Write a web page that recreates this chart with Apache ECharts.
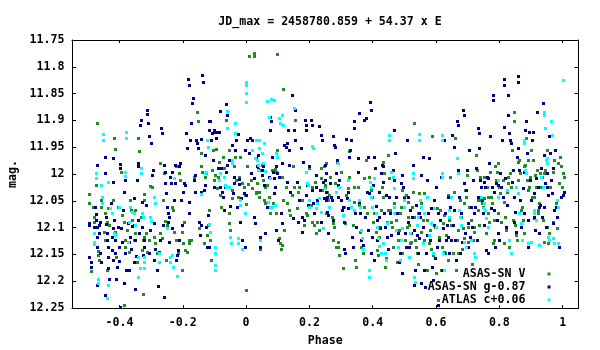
<!DOCTYPE html>
<html>
<head>
<meta charset="utf-8">
<script src="https://cdn.jsdelivr.net/npm/echarts@6/dist/echarts.min.js"></script>
<style>
  html, body { margin: 0; padding: 0; background: #fff; }
  #chart { width: 600px; height: 350px; }
</style>
</head>
<body>
<div id="chart"></div>
<script>
// Phase-folded light curve, ephemeris JD_max = 2458780.859 + 54.37 x E
const titleText = 'JD_max = 2458780.859 + 54.37 x E';
const seriesNames = ['ASAS-SN V', 'ASAS-SN g-0.87', 'ATLAS c+0.06'];
const seriesColors = ['#228b22', '#00008b', '#00ffff'];
const phaseTicks = [-0.4, -0.2, 0, 0.2, 0.4, 0.6, 0.8, 1];
const magTicks = [11.75, 11.8, 11.85, 11.9, 11.95, 12, 12.05, 12.1, 12.15, 12.2, 12.25];

// ASAS-SN V  [phase, mag]
const asasV = [
[-0.496,12.037],[-0.496,12.055],[-0.490,12.181],[-0.484,12.061],[-0.482,12.080],[-0.480,12.089],[-0.475,12.021],[-0.470,11.905],[-0.469,12.143],[-0.469,12.151],
[-0.466,12.160],[-0.458,12.049],[-0.458,12.061],[-0.450,12.108],[-0.447,12.073],[-0.445,12.123],[-0.440,12.179],[-0.438,12.089],[-0.435,12.064],[-0.432,12.095],
[-0.424,12.142],[-0.419,12.049],[-0.416,11.932],[-0.413,11.953],[-0.413,12.108],[-0.410,12.154],[-0.405,12.061],
[-0.394,11.996],[-0.392,12.076],[-0.387,12.089],[-0.382,12.124],[-0.382,12.136],[-0.377,12.104],[-0.371,12.145],[-0.366,12.049],[-0.365,12.067],[-0.361,12.086],
[-0.355,12.123],[-0.352,12.067],[-0.350,12.111],[-0.345,12.164],[-0.340,11.933],[-0.338,11.958],[-0.331,12.080],[-0.329,12.142],[-0.327,12.123],[-0.324,12.037],
[-0.324,12.049],[-0.321,12.117],[-0.317,12.111],[-0.313,12.145],[-0.308,12.123],[-0.303,12.022],[-0.385,12.244],[-0.326,12.224],
[-0.297,12.024],[-0.292,12.117],[-0.289,12.129],[-0.282,12.148],[-0.273,12.111],[-0.271,11.980],[-0.266,12.120],[-0.264,12.049],[-0.260,11.998],[-0.255,12.087],
[-0.252,12.160],[-0.250,12.095],[-0.234,12.061],[-0.232,12.067],[-0.227,12.108],[-0.222,11.986],[-0.220,12.124],[-0.215,12.148],[-0.211,11.999],[-0.208,12.011],
[-0.202,12.179],[-0.202,12.108],[-0.199,12.129],
[-0.197,12.089],[-0.192,12.142],[-0.187,12.145],[-0.181,12.123],[-0.179,12.129],[-0.173,12.123],[-0.166,12.006],[-0.155,11.884],[-0.152,11.902],[-0.150,12.101],
[-0.144,11.960],[-0.141,11.986],[-0.139,11.996],[-0.134,12.129],[-0.129,12.005],[-0.126,11.998],[-0.123,12.114],[-0.120,12.095],[-0.118,12.068],[-0.113,12.123],
[-0.110,12.160],[-0.108,11.993],[-0.105,11.956],[-0.102,12.011],
[-0.097,12.002],[-0.095,11.954],[-0.092,12.027],[-0.089,12.005],[-0.086,11.977],[-0.081,12.039],[-0.078,12.061],[-0.074,11.968],[-0.071,11.989],[-0.065,11.996],
[-0.063,11.899],[-0.060,11.983],[-0.055,11.955],[-0.053,12.073],[-0.055,12.092],[-0.052,12.104],[-0.046,12.030],[-0.044,12.045],[-0.039,11.986],[-0.036,11.968],
[-0.031,12.011],[-0.025,12.042],[-0.021,12.005],[-0.018,11.968],[-0.013,12.017],[-0.007,12.024],[-0.004,12.039],[-0.001,12.056],[0.000,12.216],
[0.003,11.986],[0.005,12.019],[0.008,11.780],[0.017,12.011],[0.019,12.027],[0.024,11.774],[0.025,11.780],[0.030,12.036],[0.032,12.033],[0.035,12.017],
[0.040,12.042],[0.042,12.033],[0.045,12.139],[0.047,11.993],[0.051,11.983],[0.053,12.011],[0.056,12.049],[0.059,12.055],[0.061,12.024],[0.066,12.021],
[0.072,12.042],[0.074,12.073],[0.082,11.993],[0.085,12.055],[0.088,12.008],[0.091,11.991],[0.093,11.996],[0.095,12.073],[0.098,11.776],[0.098,11.955],
[0.103,12.120],[0.106,12.129],[0.109,12.139],[0.112,12.132],[0.114,12.005],[0.116,12.049],[0.117,11.842],[0.119,12.104],[0.125,12.024],[0.130,12.055],
[0.135,12.067],[0.140,12.076],[0.146,12.039],[0.148,11.986],[0.151,12.024],[0.154,11.899],[0.162,12.064],[0.165,12.033],[0.167,12.024],[0.177,12.049],
[0.183,12.095],[0.188,12.073],[0.193,12.076],[0.198,11.989],
[0.204,12.058],[0.207,12.089],[0.209,12.024],[0.214,12.095],[0.217,12.014],[0.222,12.111],[0.225,12.089],[0.230,12.104],[0.235,11.989],[0.238,12.008],
[0.241,12.030],[0.246,11.986],[0.249,12.021],[0.251,12.073],
[0.249,12.024],[0.252,11.980],[0.255,12.033],[0.258,12.049],[0.263,12.039],[0.266,12.005],[0.270,12.080],[0.273,12.092],[0.273,12.123],[0.279,12.098],
[0.281,12.017],[0.284,12.136],[0.287,11.977],[0.289,12.126],[0.291,12.136],[0.294,12.151],[0.300,11.996],[0.305,12.176],[0.310,12.061],[0.312,12.091],
[0.315,12.039],[0.321,12.027],[0.326,11.958],[0.326,12.005],[0.331,12.061],[0.337,12.095],[0.340,12.024],[0.342,12.052],[0.344,12.160],[0.347,12.173],
[0.352,12.024],[0.358,12.058],[0.361,12.108],[0.363,12.136],[0.368,12.148],[0.371,12.061],[0.373,12.008],[0.379,11.974],[0.382,12.073],[0.386,11.968],
[0.389,12.005],[0.394,12.030],[0.397,12.042],[0.400,12.089],[0.405,12.073],[0.410,12.108],[0.415,12.142],[0.418,12.151],[0.421,12.117],[0.424,12.098],
[0.426,12.067],[0.428,12.024],[0.431,12.042],[0.434,11.977],[0.437,11.999],[0.439,12.173],[0.442,12.157],[0.445,12.089],[0.447,12.067],
[0.449,11.965],[0.452,12.008],[0.455,12.067],[0.458,12.089],[0.461,12.098],[0.463,12.136],[0.468,12.055],[0.473,12.086],[0.477,12.164],[0.479,12.123],
[0.484,12.104],[0.487,12.073],[0.489,12.061],[0.491,12.148],[0.494,12.030],[0.500,12.042],[0.502,12.123],[0.505,12.039],[0.508,12.098],[0.510,12.080],
[0.512,12.052],[0.516,12.095],[0.519,12.129],[0.521,12.126],[0.523,12.061],[0.526,12.033],[0.529,12.080],[0.531,11.905],[0.533,12.123],[0.537,12.136],
[0.540,12.148],[0.542,12.167],[0.544,12.073],[0.547,12.036],
[0.552,12.055],[0.554,12.108],[0.558,12.086],[0.561,12.036],[0.563,12.123],[0.568,12.148],[0.571,12.179],[0.573,12.086],[0.579,12.129],[0.582,12.104],
[0.584,12.139],[0.586,11.930],[0.589,12.151],[0.594,12.049],[0.597,12.098],[0.600,12.185],[0.603,12.064],[0.607,12.235],[0.610,12.117],[0.613,12.067],
[0.616,12.179],[0.618,12.136],[0.621,12.092],[0.624,12.077],[0.626,12.145],[0.628,12.148],[0.631,12.114],[0.637,12.039],[0.639,12.160],[0.642,12.086],
[0.645,12.005],[0.647,12.095],
[0.652,12.148],[0.658,12.033],[0.660,11.933],[0.663,12.179],[0.666,12.123],[0.668,12.104],[0.670,12.148],[0.673,12.042],[0.677,12.049],[0.679,12.080],
[0.681,12.139],[0.684,12.101],[0.687,12.120],[0.689,12.055],[0.691,12.030],[0.695,12.042],[0.698,12.002],[0.700,12.126],[0.702,12.098],[0.705,12.061],
[0.710,12.086],[0.712,12.167],[0.716,12.123],[0.719,12.108],[0.721,12.098],[0.726,11.965],[0.729,11.993],[0.731,12.049],[0.733,12.067],[0.737,12.095],
[0.740,12.005],[0.742,12.049],[0.744,12.055],[0.747,12.061],
[0.750,12.045],[0.752,12.005],[0.758,12.111],[0.761,12.024],[0.763,12.073],[0.765,12.042],[0.768,12.089],[0.771,11.996],[0.773,12.042],[0.776,12.055],
[0.779,12.129],[0.782,12.086],[0.784,12.123],[0.786,11.986],[0.789,12.011],[0.792,11.996],[0.795,11.980],[0.797,12.073],[0.800,12.024],[0.803,12.036],
[0.805,12.089],[0.810,12.011],[0.814,12.052],[0.816,12.129],[0.818,12.080],[0.821,12.104],[0.824,12.033],[0.826,12.005],[0.828,12.017],[0.831,12.136],
[0.835,11.999],[0.837,12.024],[0.839,11.955],[0.842,12.086],[0.845,11.884],[0.847,11.902],
[0.849,12.095],[0.852,12.114],[0.856,12.123],[0.858,11.977],[0.860,12.011],[0.863,11.974],[0.866,11.999],[0.868,12.067],[0.870,12.061],[0.874,12.086],
[0.877,11.986],[0.879,12.111],[0.881,11.983],[0.884,11.933],[0.887,12.011],[0.889,12.030],[0.891,11.974],[0.895,12.024],[0.898,12.005],[0.900,11.955],
[0.902,12.042],[0.905,11.974],[0.908,12.042],[0.910,12.083],[0.912,12.002],[0.916,12.024],[0.919,11.993],[0.921,12.073],[0.923,12.067],[0.926,12.055],
[0.929,11.999],[0.931,12.024],[0.934,12.005],[0.937,12.086],[0.940,11.999],[0.942,12.126],[0.944,11.993],[0.947,11.974],
[0.950,11.955],[0.952,12.098],[0.955,12.129],[0.958,12.111],[0.961,12.024],[0.963,12.011],[0.968,11.996],[0.971,12.089],[0.974,11.974],[0.979,12.055],
[0.982,12.101],[0.984,11.980],[0.989,12.017],[0.993,11.968],[0.995,11.986],[0.997,12.024],[1.000,11.999],[1.003,12.005]
];

// ASAS-SN g, shifted by -0.87  [phase, mag]
const asasG = [
[-0.496,12.091],[-0.496,12.095],[-0.496,12.154],[-0.490,12.164],[-0.490,12.174],[-0.479,12.098],[-0.477,12.061],[-0.475,12.075],[-0.474,12.085],[-0.471,11.984],
[-0.471,12.098],[-0.471,12.117],[-0.470,12.137],[-0.470,12.208],[-0.466,12.095],[-0.466,12.111],[-0.463,12.089],[-0.461,12.147],[-0.458,12.164],[-0.445,11.968],
[-0.445,11.999],[-0.447,12.226],[-0.442,12.080],[-0.442,12.093],[-0.440,12.111],[-0.440,12.123],[-0.437,12.136],[-0.437,12.154],[-0.435,12.176],[-0.432,12.195],
[-0.426,12.055],[-0.424,12.117],[-0.424,12.141],[-0.422,12.160],[-0.419,11.970],[-0.419,12.014],[-0.419,12.101],[-0.417,12.086],[-0.413,12.123],[-0.413,12.148],
[-0.410,12.196],[-0.408,12.173],[-0.405,12.098],[-0.403,12.136],[-0.403,12.162],[-0.397,12.248],
[-0.398,11.981],[-0.398,11.989],[-0.394,12.101],[-0.392,12.126],[-0.390,12.067],[-0.387,12.033],[-0.385,12.204],[-0.382,12.011],[-0.382,12.148],[-0.379,12.179],
[-0.374,12.092],[-0.371,12.179],[-0.369,12.126],[-0.366,12.117],[-0.363,12.139],[-0.361,12.097],[-0.355,12.045],[-0.353,12.095],[-0.353,12.164],[-0.352,12.215],
[-0.350,12.123],[-0.348,12.153],[-0.345,12.011],[-0.341,11.980],[-0.340,11.985],[-0.340,12.086],[-0.338,12.111],[-0.334,11.909],[-0.331,11.899],[-0.329,12.052],
[-0.329,12.098],[-0.327,12.151],[-0.324,12.123],[-0.321,12.136],[-0.316,12.058],[-0.314,11.881],[-0.312,11.888],[-0.310,11.904],[-0.308,11.930],[-0.306,12.148],
[-0.303,12.104],[-0.300,11.943],
[-0.297,12.002],[-0.295,11.993],[-0.292,12.092],[-0.290,12.160],[-0.287,12.139],[-0.282,12.179],[-0.278,12.209],[-0.274,12.145],[-0.271,12.123],[-0.268,11.915],
[-0.266,11.924],[-0.264,12.095],[-0.260,12.229],[-0.259,11.983],[-0.257,11.996],[-0.255,12.017],[-0.253,12.036],[-0.250,12.061],[-0.248,12.073],[-0.247,12.089],
[-0.245,12.080],[-0.243,12.126],[-0.239,12.005],[-0.237,12.017],[-0.234,11.996],[-0.234,12.101],[-0.229,12.049],[-0.226,11.983],[-0.224,12.017],[-0.221,12.160],
[-0.218,12.151],[-0.215,12.142],[-0.213,12.123],[-0.211,11.986],[-0.208,11.979],[-0.205,12.049],[-0.202,12.095],[-0.199,12.033],
[-0.197,12.017],[-0.192,12.021],[-0.189,11.924],[-0.187,11.952],[-0.184,11.822],[-0.181,11.834],[-0.181,12.073],[-0.179,12.052],[-0.176,11.937],[-0.173,11.905],
[-0.171,11.868],[-0.169,11.859],[-0.166,12.011],[-0.162,12.002],[-0.160,12.033],[-0.158,11.937],[-0.155,11.943],[-0.152,11.952],[-0.150,12.089],[-0.147,12.114],
[-0.144,12.033],[-0.143,11.935],[-0.141,12.095],[-0.139,11.815],[-0.137,11.828],[-0.134,12.030],[-0.131,12.021],[-0.129,11.965],[-0.126,12.098],[-0.123,12.136],
[-0.120,12.077],[-0.118,11.902],[-0.118,11.917],[-0.116,12.136],[-0.113,11.902],[-0.110,11.937],[-0.108,11.923],[-0.105,11.974],[-0.102,12.024],[-0.100,11.917],
[-0.097,11.921],[-0.095,11.933],[-0.092,11.921],[-0.089,11.989],[-0.086,11.921],[-0.084,12.024],[-0.081,11.882],[-0.078,11.989],[-0.076,12.033],[-0.074,12.042],
[-0.071,12.067],[-0.067,12.024],[-0.065,11.996],[-0.063,11.869],[-0.061,11.890],[-0.059,11.983],[-0.055,11.974],[-0.050,12.060],[-0.044,11.946],[-0.041,12.035],
[-0.039,12.005],[-0.037,12.017],[-0.034,11.955],[-0.031,11.937],[-0.028,12.061],[-0.025,11.925],[-0.023,12.019],[-0.021,12.010],[-0.018,12.089],[-0.015,12.045],
[-0.013,12.123],[-0.007,12.036],[-0.004,11.955],[-0.002,12.136],[0.000,12.039],
[0.003,11.937],[0.008,11.961],[0.012,11.933],[0.015,11.999],[0.019,11.937],[0.024,12.008],[0.026,12.080],[0.029,12.092],[0.030,11.971],[0.033,11.985],
[0.036,11.965],[0.038,11.991],[0.040,11.952],[0.043,12.117],[0.045,12.136],[0.049,12.002],[0.051,11.993],[0.053,11.986],[0.056,12.021],[0.061,12.111],
[0.066,12.061],[0.072,12.005],[0.074,11.893],[0.076,11.917],[0.079,11.902],[0.082,11.968],[0.084,11.996],[0.088,12.008],[0.089,12.036],[0.091,12.024],
[0.093,12.104],[0.095,11.986],[0.098,11.999],[0.100,12.123],
[0.103,12.005],[0.109,12.073],[0.112,11.980],[0.114,12.092],[0.119,11.946],[0.125,11.949],[0.128,11.943],[0.130,12.014],[0.133,11.918],[0.135,11.955],
[0.137,11.983],[0.140,12.033],[0.146,11.853],[0.148,12.083],[0.151,11.917],[0.154,11.881],[0.156,11.937],[0.162,12.014],[0.165,12.089],[0.167,12.049],
[0.172,11.951],[0.175,12.080],[0.177,12.108],[0.180,11.977],[0.183,12.086],[0.186,11.899],[0.188,11.909],[0.188,11.918],[0.190,12.039],[0.193,12.021],
[0.196,12.058],[0.198,11.986],
[0.204,11.899],[0.207,11.909],[0.209,12.030],[0.211,12.055],[0.214,12.073],[0.220,12.002],[0.222,12.024],[0.225,12.049],[0.230,11.910],[0.232,12.030],
[0.235,12.089],[0.238,11.927],[0.241,11.937],[0.243,12.014],[0.246,12.045],[0.251,12.049],
[0.249,11.983],[0.252,11.999],[0.250,12.011],[0.252,12.033],[0.255,12.042],[0.255,12.070],[0.258,12.077],[0.260,12.111],[0.263,12.061],[0.266,12.017],
[0.268,12.042],[0.270,12.049],[0.273,12.086],[0.276,11.930],[0.279,11.946],[0.281,11.949],[0.284,11.999],[0.287,11.974],[0.289,12.021],[0.291,12.042],
[0.294,12.011],[0.300,12.049],[0.302,12.067],[0.305,12.061],[0.308,12.089],[0.310,12.139],[0.312,12.148],[0.315,11.935],[0.319,12.045],[0.321,12.033],
[0.323,12.064],[0.326,11.968],[0.329,11.955],[0.331,11.937],[0.333,12.117],[0.337,12.136],[0.340,11.901],[0.342,11.915],[0.344,12.073],[0.347,12.098],
[0.352,11.971],[0.355,11.996],[0.358,11.887],[0.358,12.052],[0.361,12.073],[0.363,12.123],[0.368,12.132],[0.373,11.899],[0.375,12.080],[0.379,11.896],
[0.382,12.033],[0.384,11.968],[0.386,12.104],[0.389,12.036],[0.392,11.865],[0.394,11.881],[0.394,12.148],[0.397,12.117],[0.400,12.021],[0.403,12.160],
[0.405,11.969],[0.407,11.989],[0.410,12.060],[0.413,12.086],[0.415,12.123],[0.419,12.033],[0.421,12.080],[0.424,12.101],[0.426,11.999],[0.428,11.983],
[0.431,11.986],[0.434,12.014],[0.437,12.073],[0.439,12.098],[0.442,12.039],[0.445,12.117],[0.447,12.139],
[0.452,12.042],[0.455,12.073],[0.458,12.114],[0.463,11.993],[0.466,12.011],[0.468,11.918],[0.470,11.961],[0.473,12.042],[0.477,12.073],[0.479,12.111],
[0.484,12.164],[0.487,12.148],[0.489,12.017],[0.491,12.002],[0.494,12.185],[0.497,12.024],[0.500,12.045],[0.503,12.111],[0.505,12.136],[0.508,11.937],
[0.510,12.042],[0.512,12.089],[0.516,12.136],[0.519,12.067],[0.521,12.111],[0.524,12.080],[0.526,11.983],[0.529,12.207],[0.531,12.104],[0.533,12.179],
[0.537,12.058],[0.540,12.114],[0.542,12.148],[0.545,12.120],[0.547,12.072],
[0.550,12.080],[0.552,12.204],[0.554,12.002],[0.558,11.968],[0.560,12.098],[0.563,12.179],[0.565,12.210],[0.568,12.148],[0.571,12.114],[0.573,12.011],
[0.576,12.073],[0.579,11.971],[0.582,12.123],[0.584,12.064],[0.586,12.173],[0.589,12.198],[0.592,12.049],[0.594,12.095],[0.597,12.157],[0.600,12.024],
[0.603,12.136],[0.605,12.244],[0.607,12.073],[0.610,12.123],[0.613,12.086],[0.616,12.005],[0.618,12.179],[0.621,12.101],[0.624,12.148],[0.626,11.937],
[0.628,12.073],[0.631,12.123],[0.635,12.095],[0.637,12.042],[0.639,12.117],[0.642,12.148],[0.645,12.061],[0.647,12.123],
[0.650,11.927],[0.652,12.095],[0.656,12.067],[0.658,11.949],[0.661,12.123],[0.663,12.160],[0.666,11.902],[0.668,11.909],[0.670,11.993],[0.673,12.042],
[0.677,12.148],[0.679,12.073],[0.681,12.126],[0.684,11.881],[0.687,11.890],[0.689,12.017],[0.691,12.111],[0.695,12.030],[0.698,11.993],[0.700,12.136],
[0.702,12.092],[0.705,11.955],[0.708,12.117],[0.710,12.061],[0.712,12.098],[0.716,12.011],[0.719,12.148],[0.721,12.073],[0.723,12.061],[0.726,11.989],
[0.729,12.123],[0.731,12.042],[0.733,11.915],[0.735,11.924],[0.737,11.952],[0.740,12.011],[0.742,12.024],[0.744,12.049],[0.747,12.073],
[0.750,12.095],[0.752,12.014],[0.755,12.024],[0.758,12.142],[0.761,12.005],[0.763,12.148],[0.765,12.008],[0.768,11.980],[0.771,11.930],[0.773,12.064],
[0.776,12.024],[0.779,11.853],[0.779,11.862],[0.782,12.067],[0.784,12.033],[0.786,12.136],[0.789,12.017],[0.792,12.086],[0.795,12.111],[0.797,12.021],
[0.800,12.123],[0.803,11.999],[0.805,12.024],[0.807,11.937],[0.810,12.042],[0.814,11.912],[0.816,11.822],[0.816,11.834],[0.818,12.008],[0.821,12.098],
[0.824,12.058],[0.826,11.890],[0.828,11.853],[0.831,11.924],[0.835,11.937],[0.837,11.943],[0.839,12.014],[0.842,11.993],[0.845,12.042],[0.847,12.089],
[0.849,12.070],[0.852,12.108],[0.856,11.968],[0.858,11.952],[0.860,11.818],[0.860,11.828],[0.863,11.993],[0.866,12.049],[0.868,12.098],[0.870,12.123],
[0.874,12.027],[0.877,11.996],[0.879,12.073],[0.881,11.918],[0.884,11.902],[0.886,11.961],[0.889,12.086],[0.891,12.136],[0.895,11.921],[0.898,12.011],
[0.900,12.049],[0.902,11.937],[0.905,11.921],[0.908,12.036],[0.910,12.080],[0.912,12.104],[0.916,12.008],[0.919,11.884],[0.921,12.024],[0.924,12.061],
[0.926,12.111],[0.929,12.058],[0.931,11.989],[0.934,12.080],[0.937,11.868],[0.940,11.965],[0.942,12.061],[0.944,12.017],[0.947,12.098],
[0.950,11.999],[0.952,12.024],[0.955,12.039],[0.958,11.930],[0.961,11.961],[0.963,12.011],[0.965,12.036],[0.968,11.989],[0.971,12.092],[0.974,12.067],
[0.976,11.955],[0.979,12.061],[0.982,12.080],[0.984,12.061],[0.989,12.136],[0.995,12.042],[1.000,12.039],[1.003,12.033]
];

// ATLAS c, shifted by +0.06  [phase, mag]
const atlasC = [
[-0.482,12.111],[-0.482,12.126],[-0.482,12.131],[-0.475,11.999],[-0.475,12.008],[-0.468,12.195],[-0.468,12.204],[-0.458,12.021],[-0.456,12.042],[-0.456,12.055],
[-0.451,11.926],[-0.451,11.937],[-0.440,12.232],[-0.437,12.014],[-0.437,12.207],[-0.431,12.064],[-0.424,12.073],[-0.416,12.111],[-0.413,12.114],[-0.401,12.061],
[-0.382,11.996],[-0.382,12.004],[-0.379,11.921],[-0.379,11.933],[-0.373,12.126],[-0.369,12.089],[-0.366,12.061],[-0.361,12.070],[-0.355,12.073],[-0.350,12.095],
[-0.341,12.154],[-0.340,12.192],[-0.336,12.176],[-0.332,11.989],[-0.331,11.999],[-0.329,12.073],[-0.327,12.080],[-0.323,12.154],[-0.321,12.165],[-0.321,12.176],
[-0.303,12.080],[-0.300,12.087],
[-0.292,12.042],[-0.287,12.055],[-0.276,12.148],[-0.274,12.164],[-0.250,12.101],[-0.239,12.154],[-0.239,12.164],[-0.234,12.151],[-0.231,12.173],[-0.229,12.008],
[-0.217,12.190],
[-0.144,12.037],[-0.131,11.999],[-0.126,11.996],[-0.123,11.937],[-0.121,11.949],[-0.118,12.094],[-0.113,12.108],[-0.099,12.136],[-0.099,12.148],[-0.099,12.170],
[-0.099,12.179],
[-0.086,12.011],[-0.081,11.999],[-0.071,12.005],[-0.067,12.021],[-0.065,12.024],[-0.060,11.882],[-0.060,11.915],[-0.055,12.024],[-0.050,12.117],[-0.048,12.129],
[-0.046,11.974],[-0.044,11.980],[-0.036,11.904],[-0.034,11.924],[-0.027,12.120],[-0.025,12.129],[-0.018,12.049],[-0.018,12.058],[-0.013,12.139],[-0.002,12.073],
[0.000,11.828],[0.000,11.834],[0.000,11.849],[0.000,11.865],
[0.019,11.955],[0.027,11.971],[0.032,11.937],[0.035,11.974],[0.036,11.983],[0.038,11.993],[0.040,11.937],[0.040,11.952],[0.045,12.123],[0.051,11.961],
[0.053,11.980],[0.056,11.943],[0.061,11.994],[0.066,11.863],[0.070,12.053],[0.073,11.893],[0.074,12.008],[0.075,12.061],[0.078,11.861],[0.082,12.061],
[0.088,11.862],[0.091,12.058],[0.095,11.961],[0.099,11.968],
[0.103,11.896],[0.106,11.905],[0.114,11.890],[0.116,11.909],[0.151,11.877],[0.188,11.996],[0.193,12.017],[0.194,12.021],[0.198,12.049],[0.200,12.061],
[0.209,11.948],[0.211,11.952],[0.220,12.064],[0.225,12.055],[0.230,12.045],[0.238,12.070],[0.243,12.101],[0.246,12.027],
[0.263,12.061],[0.284,12.033],[0.289,11.980],[0.294,12.024],[0.305,12.077],[0.321,12.011],[0.326,12.049],[0.331,12.061],[0.342,12.067],
[0.358,12.049],[0.361,12.061],[0.363,12.104],[0.365,12.120],[0.368,12.139],[0.387,12.179],[0.387,12.192],[0.392,12.014],[0.394,12.024],[0.394,12.042],
[0.398,12.061],[0.403,12.008],[0.410,12.073],[0.415,12.098],[0.418,12.120],[0.421,12.134],[0.426,12.148],[0.434,12.129],[0.439,12.148],[0.442,12.160],
[0.445,12.092],
[0.452,11.927],[0.452,11.937],[0.458,11.996],[0.463,12.005],[0.466,12.027],[0.468,12.061],[0.468,12.073],[0.473,12.104],[0.479,12.136],[0.487,12.160],
[0.489,12.123],[0.494,12.101],[0.498,12.049],[0.500,12.061],[0.516,12.154],[0.519,12.111],[0.526,11.999],[0.526,12.008],[0.531,12.192],[0.533,12.201],
[0.540,12.095],[0.542,12.080],[0.547,11.926],[0.547,11.937],[0.550,12.049],
[0.552,12.061],[0.558,12.129],[0.563,12.073],[0.573,12.042],[0.579,12.114],[0.584,12.092],[0.589,12.148],[0.594,12.064],[0.600,12.098],[0.618,11.927],
[0.618,11.937],[0.618,11.999],[0.618,12.005],[0.621,12.148],[0.626,12.179],[0.642,12.067],[0.642,12.080],[0.647,12.042],
[0.666,11.971],[0.668,11.999],[0.673,12.067],[0.677,12.080],[0.679,12.095],[0.689,12.126],[0.695,12.136],[0.710,12.123],[0.721,12.148],[0.723,12.154],
[0.742,12.042],[0.747,12.064],
[0.752,12.055],[0.755,12.067],[0.758,12.083],[0.763,12.098],[0.795,12.011],[0.797,12.042],[0.824,12.030],[0.831,12.123],[0.837,12.148],[0.852,12.024],
[0.858,12.036],[0.863,12.073],[0.868,12.092],[0.870,12.123],[0.877,11.937],[0.879,11.943],[0.881,11.993],[0.884,11.999],[0.889,12.129],[0.900,12.126],
[0.908,12.067],[0.910,12.073],[0.916,12.086],[0.926,12.132],[0.931,12.005],[0.937,12.024],[0.940,11.884],[0.942,11.890],[0.944,11.915],[0.947,11.974],
[0.950,11.971],[0.952,11.980],[0.955,12.117],[0.958,12.123],[0.963,11.902],[0.965,11.927],[0.971,12.120],[0.974,12.129],[0.982,12.049],[0.984,12.061],
[0.986,12.129],[1.000,11.825]
];

const FONT = "'DejaVu Sans Mono', 'Liberation Mono', monospace";
const textBase = { fontFamily: FONT, fontWeight: 'bold', fontSize: 11.6, color: '#000' };
const DOT = 3; // marker edge, px

const chart = echarts.init(document.getElementById('chart'), null, { renderer: 'canvas' });

const legendRow = (name, top) => ({
  data: [name],
  orient: 'vertical',
  align: 'right',
  right: 49.5,
  top: top,
  padding: 0,
  itemGap: 0,
  itemWidth: DOT,
  itemHeight: DOT,
  icon: 'rect',
  selectedMode: false,
  textStyle: Object.assign({}, textBase, { lineHeight: 13, padding: [0, 17, 0, 0] })
});

const frameAxis = {
  axisLine: { show: true, onZero: false, lineStyle: { color: '#000', width: 1 } },
  splitLine: { show: false }
};

// square dots snapped to whole pixels
function dotRenderer(color) {
  return function (params, api) {
    const p = api.coord([api.value(0), api.value(1)]);
    return {
      type: 'rect',
      shape: { x: Math.round(p[0]) - 1, y: Math.round(p[1]) - 1, width: DOT, height: DOT },
      style: { fill: color }
    };
  };
}

chart.setOption({
  backgroundColor: '#fff',
  animation: false,
  title: {
    text: titleText,
    left: 325,
    textAlign: 'center',
    top: 11,
    textStyle: Object.assign({}, textBase)
  },
  legend: [
    legendRow(seriesNames[0], 267.5),
    legendRow(seriesNames[1], 280.5),
    legendRow(seriesNames[2], 293.5)
  ],
  grid: { left: 72, right: 21.5, top: 40, bottom: 42, containLabel: false, outerBoundsMode: 'none' },
  xAxis: [
    Object.assign({}, frameAxis, {
      type: 'value', position: 'bottom', min: -0.55, max: 1.05,
      name: 'Phase', nameLocation: 'middle', nameGap: 27,
      nameTextStyle: Object.assign({}, textBase),
      axisTick: { show: true, inside: true, length: 3, customValues: phaseTicks, lineStyle: { color: '#000' } },
      axisLabel: Object.assign({}, textBase, { margin: 9, customValues: phaseTicks })
    }),
    Object.assign({}, frameAxis, {
      type: 'value', position: 'top', min: -0.55, max: 1.05,
      axisTick: { show: true, inside: true, length: 3, customValues: phaseTicks, lineStyle: { color: '#000' } },
      axisLabel: { show: false }
    })
  ],
  yAxis: [
    Object.assign({}, frameAxis, {
      type: 'value', position: 'left', inverse: true, min: 11.75, max: 12.25,
      name: 'mag.', nameLocation: 'middle', nameGap: 52,
      nameTextStyle: Object.assign({}, textBase),
      axisTick: { show: true, inside: true, length: 4, customValues: magTicks, lineStyle: { color: '#000' } },
      axisLabel: Object.assign({}, textBase, { margin: 7.5, customValues: magTicks })
    }),
    Object.assign({}, frameAxis, {
      type: 'value', position: 'right', inverse: true, min: 11.75, max: 12.25,
      axisTick: { show: true, inside: true, length: 4, customValues: magTicks, lineStyle: { color: '#000' } },
      axisLabel: { show: false }
    })
  ],
  series: [
    { name: seriesNames[0], data: asasV, color: seriesColors[0] },
    { name: seriesNames[1], data: asasG, color: seriesColors[1] },
    { name: seriesNames[2], data: atlasC, color: seriesColors[2] }
  ].map(s => ({
    type: 'custom',
    name: s.name,
    data: s.data,
    encode: { x: 0, y: 1 },
    renderItem: dotRenderer(s.color),
    itemStyle: { color: s.color },
    xAxisIndex: 0,
    yAxisIndex: 0,
    silent: true
  }))
});
</script>
</body>
</html>
